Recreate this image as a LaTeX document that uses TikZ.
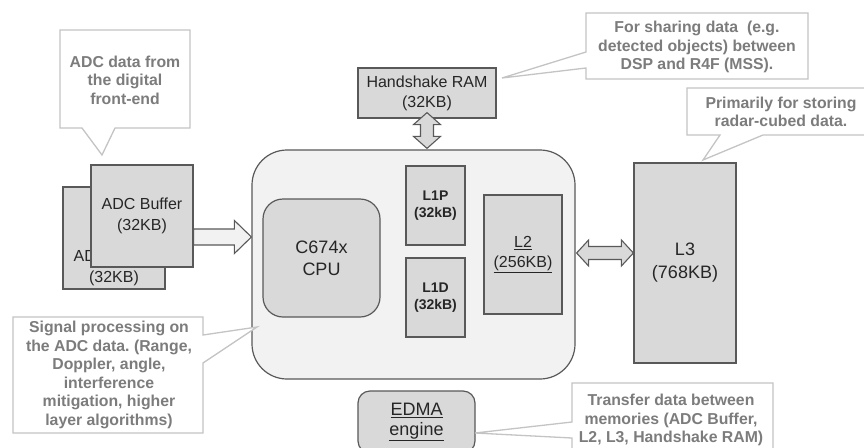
\documentclass[tikz,border=0pt]{standalone}
\usepackage{fontspec}
\setmainfont{Liberation Sans}
\usetikzlibrary{calc}
\definecolor{boxfill}{HTML}{D9D9D9}
\definecolor{mainfill}{HTML}{F2F2F2}
\definecolor{edgegray}{HTML}{595959}
\definecolor{calloutedge}{HTML}{C4C4C4}
\definecolor{callouttext}{HTML}{7C7C7C}
\definecolor{boxtext}{HTML}{262626}
\begin{document}
\frenchspacing
\begin{tikzpicture}[x=1pt,y=-1pt,
  membox/.style={draw=edgegray,fill=boxfill,line width=1.2pt,inner sep=0pt,align=center,text=boxtext,
    font=\fontsize{16}{21}\selectfont},
  mainbox/.style={draw=edgegray,fill=mainfill,line width=1.2pt,inner sep=0pt,rounded corners=35pt},
  blockarrow/.style={draw=edgegray,line width=1.1pt,line join=miter},
  calloutshape/.style={draw=calloutedge,fill=white,line width=1.3pt,line join=miter},
  callouttxt/.style={inner sep=0pt,align=center,text=callouttext,font=\bfseries\fontsize{15.8}{18.6}\selectfont}]
\useasboundingbox (0,0) rectangle (864,447);
\clip (0,0) rectangle (864,447);
\fill[white] (0,0) rectangle (864,447);

% ADC buffers
\node[membox,minimum width=102,minimum height=102] (adcback) at (114,238) {};
\node[inner sep=0pt,align=center,text=boxtext,font=\fontsize{16}{21}\selectfont] (adcbacktext) at (114,268) {ADC Buffer\\(32KB)};
\node[membox,minimum width=102,minimum height=102] (adcfront) at (142,216) {ADC Buffer\\(32KB)};

% main DSP subsystem box
\node[mainbox,minimum width=323,minimum height=229] (main) at (413.5,264.5) {};
\node[membox,rounded corners=20pt,minimum width=117,minimum height=118,font=\fontsize{18}{22}\selectfont] (cpu) at (321.5,258) {C674x\\CPU};
\node[membox,minimum width=59,minimum height=79,font=\bfseries\fontsize{14}{17}\selectfont] (l1p) at (435.5,205.5) {L1P\\(32kB)};
\node[membox,minimum width=59,minimum height=79,font=\bfseries\fontsize{14}{17}\selectfont] (l1d) at (435.5,297.5) {L1D\\(32kB)};
\node[membox,minimum width=78,minimum height=119,font=\fontsize{16}{20}\selectfont] (l2) at (523,254.5) {\underline{L2}\\\underline{(256KB)}};

% L3
\node[membox,minimum width=102,minimum height=200,font=\fontsize{18}{23}\selectfont] (l3) at (685,263) {L3\\(768KB)};

% Handshake RAM
\node[membox,minimum width=138,minimum height=50,font=\fontsize{16}{20}\selectfont] (hs) at (427,93) {Handshake RAM\\(32KB)};

% EDMA
\node[membox,rounded corners=12pt,minimum width=117,minimum height=62,font=\fontsize{18}{20}\selectfont] (edma) at (416.5,422) {\underline{EDMA}\\\underline{engine}};

% ADC -> main block arrow
\coordinate (a1s) at (adcfront.east |- 0,237);
\coordinate (a1e) at (main.west |- 0,237);
\draw[blockarrow,fill=mainfill] let \p1=(a1s), \p2=(a1e) in
  (\x1,\y1+8) -- (\x2-17,\y1+8) -- (\x2-17,\y1+16.5) -- (\x2,\y1) -- (\x2-17,\y1-16.5) -- (\x2-17,\y1-8) -- (\x1,\y1-8) -- cycle;

% Handshake <-> main vertical double arrow
\coordinate (h1) at ($(hs.south)+(0,-6)$);
\coordinate (h2) at ($(hs.south |- main.north)+(0,-1)$);
\draw[blockarrow,fill=boxfill] let \p1=(h1), \p2=(h2) in
  (\x1,\y1) -- (\x1+13.5,\y1-12) -- (\x1+6.5,\y1-12) -- (\x1+6.5,\y2+12) -- (\x1+13.5,\y2+12) -- (\x1,\y2)
  -- (\x1-13.5,\y2+12) -- (\x1-6.5,\y2+12) -- (\x1-6.5,\y1-12) -- (\x1-13.5,\y1-12) -- cycle;

% main <-> L3 horizontal double arrow
\coordinate (d1) at ($(main.east |- 0,253)+(1,0)$);
\coordinate (d2) at (l3.west |- 0,253);
\draw[blockarrow,fill=boxfill] let \p1=(d1), \p2=(d2) in
  (\x1,\y1) -- (\x1+12,\y1+13) -- (\x1+12,\y1+6.5) -- (\x2-12,\y1+6.5) -- (\x2-12,\y1+13) -- (\x2,\y1)
  -- (\x2-12,\y1-13) -- (\x2-12,\y1-6.5) -- (\x1+12,\y1-6.5) -- (\x1+12,\y1-13) -- cycle;

% Callouts
\draw[calloutshape] (60,30) -- (190,30) -- (190,128) -- (115,128) -- (102,155) -- (82,128) -- (60,128) -- cycle;
\node[callouttxt] (c1t) at (125,80) {ADC data from\\the digital\\front-end};

\draw[calloutshape] (586,13) -- (808,13) -- (808,79) -- (586,79) -- (586,68) -- (502,78) -- (586,52) -- cycle;
\node[callouttxt] (c2t) at (697,47) {For sharing data~ (e.g.\\detected objects) between\\DSP and R4F (MSS).};

\draw[calloutshape] (687,88) -- (880,88) -- (880,135) -- (763,135) -- (703,160) -- (720,135) -- (687,135) -- cycle;
\node[callouttxt] (c3t) at (781,112) {Primarily for storing\\radar-cubed data.};

\draw[calloutshape] (13,317) -- (203,317) -- (203,335) -- (257,327) -- (203,363) -- (203,433) -- (13,433) -- cycle;
\node[callouttxt] (c4t) at (109,375) {Signal processing on\\the ADC data. (Range,\\Doppler, angle,\\interference\\mitigation, higher\\layer algorithms)};

\draw[calloutshape] (572,383) -- (773,383) -- (773,460) -- (572,460) -- (572,438) -- (475,433) -- (572,422) -- cycle;
\node[callouttxt] (c5t) at (671,420) {Transfer data between\\memories (ADC Buffer,\\L2, L3, Handshake RAM)};
\end{tikzpicture}
\end{document}
